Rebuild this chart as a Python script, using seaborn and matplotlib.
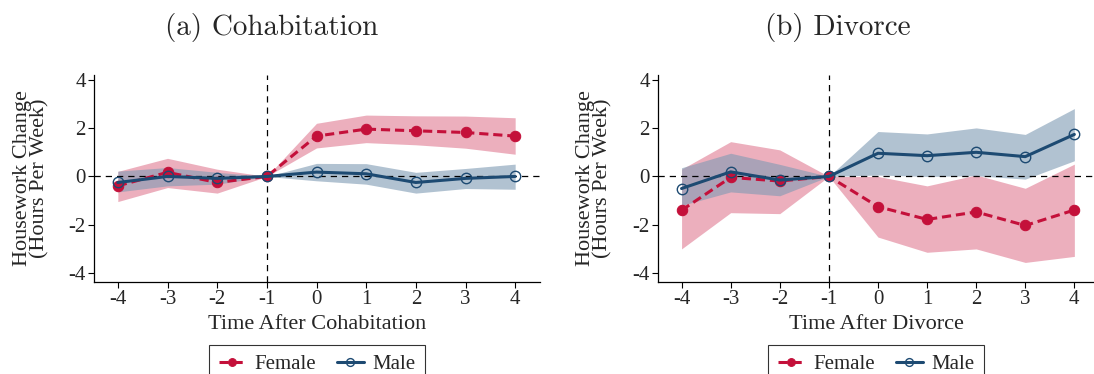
import numpy as np
import pandas as pd
import matplotlib
matplotlib.use("Agg")
import matplotlib.pyplot as plt
import seaborn as sns

# Event time relative to the transition
event_time = [-4, -3, -2, -1, 0, 1, 2, 3, 4]

# (a) Cohabitation
cohab_female = [-0.39, 0.17, -0.25, 0.0, 1.67, 1.96, 1.89, 1.82, 1.67]
cohab_female_lo = [-1.04, -0.46, -0.69, 0.0, 1.18, 1.40, 1.31, 1.17, 0.92]
cohab_female_hi = [0.21, 0.75, 0.30, 0.0, 2.20, 2.54, 2.51, 2.50, 2.43]
cohab_male = [-0.25, 0.0, -0.08, 0.0, 0.18, 0.11, -0.25, -0.08, 0.0]
cohab_male_lo = [-0.64, -0.39, -0.32, 0.0, -0.18, -0.32, -0.69, -0.50, -0.53]
cohab_male_hi = [0.22, 0.37, 0.17, 0.0, 0.54, 0.53, 0.17, 0.33, 0.51]

# (b) Divorce
div_female = [-1.40, -0.04, -0.19, 0.0, -1.25, -1.78, -1.47, -2.03, -1.39]
div_female_lo = [-3.00, -1.50, -1.54, 0.0, -2.51, -3.14, -3.00, -3.56, -3.31]
div_female_hi = [0.30, 1.44, 1.10, 0.0, 0.00, -0.39, 0.06, -0.49, 0.51]
div_male = [-0.50, 0.19, -0.15, 0.0, 0.96, 0.86, 1.00, 0.82, 1.74]
div_male_lo = [-1.20, -0.64, -0.80, 0.0, 0.06, 0.00, 0.03, -0.11, 0.65]
div_male_hi = [0.36, 0.96, 0.50, 0.0, 1.86, 1.76, 2.01, 1.74, 2.81]

titles = ["(a) Cohabitation", "(b) Divorce"]
xlabels = ["Time After Cohabitation", "Time After Divorce"]
ylabel = "Housework Change\n(Hours Per Week)"
y_ticks = [-4, -2, 0, 2, 4]

sns.set_theme(style="ticks")
plt.rcParams["font.family"] = ["Liberation Serif", "DejaVu Serif"]
plt.rcParams["axes.unicode_minus"] = False

red = "#c4103a"
red_band = "#e07a92"
navy = "#1d4a72"
navy_band = "#7e9ab3"

panels = [
    (cohab_female, cohab_female_lo, cohab_female_hi, cohab_male, cohab_male_lo, cohab_male_hi),
    (div_female, div_female_lo, div_female_hi, div_male, div_male_lo, div_male_hi),
]

fig = plt.figure(figsize=(10.94, 3.74), dpi=100)
W, H = 1094.0, 374.0
ax_boxes = [
    [94 / W, 1 - 282 / H, 446 / W, 207 / H],
    [658 / W, 1 - 282 / H, 436 / W, 207 / H],
]
title_x = [272 / W, 838 / W]

for i, (fem, fem_lo, fem_hi, mal, mal_lo, mal_hi) in enumerate(panels):
    ax = fig.add_axes(ax_boxes[i])
    df = pd.DataFrame({
        "t": event_time * 2,
        "value": fem + mal,
        "Sex": ["Female"] * len(event_time) + ["Male"] * len(event_time),
    })
    ax.fill_between(event_time, fem_lo, fem_hi, color=red_band, alpha=0.6, lw=0, zorder=1)
    ax.fill_between(event_time, mal_lo, mal_hi, color=navy_band, alpha=0.6, lw=0, zorder=1)
    ax.axhline(0, color="black", lw=0.9, ls=(0, (5, 4)), zorder=2)
    ax.axvline(-1, color="black", lw=0.9, ls=(0, (5, 4)), zorder=2)

    sns.lineplot(data=df[df.Sex == "Female"], x="t", y="value", ax=ax,
                 color=red, lw=2.2, ls=(0, (3, 1.6)), marker="o", markersize=7.5,
                 markeredgecolor=red, markerfacecolor=red, label="Female", zorder=3)
    sns.lineplot(data=df[df.Sex == "Male"], x="t", y="value", ax=ax,
                 color=navy, lw=2.2, marker="o", markersize=7.5,
                 markeredgecolor=navy, markerfacecolor="none", markeredgewidth=1.0,
                 label="Male", zorder=4)

    ax.set_xlim(-4.48, 4.5 if i == 0 else 4.4)
    ax.set_ylim(-4.37, 4.2)
    ax.set_xticks(event_time)
    ax.set_yticks(y_ticks)
    ax.tick_params(axis="both", labelsize=15, length=4, width=0.8, color="black",
                   direction="out", pad=2)
    for s in ("top", "right"):
        ax.spines[s].set_visible(False)
    for s in ("left", "bottom"):
        ax.spines[s].set_color("black")
        ax.spines[s].set_linewidth(0.9)
    ax.set_xlabel(xlabels[i], fontsize=16, labelpad=4)
    ax.set_ylabel(ylabel, fontsize=16, linespacing=0.85)
    ax.yaxis.set_label_coords(-0.10 if i == 0 else -0.105, 0.5)
    fig.text(title_x[i], 1 - 27 / H, titles[i], fontsize=21, family="cmr10",
             ha="center", va="center")
    leg = ax.legend(loc="upper center", bbox_to_anchor=(0.5, -0.305), ncol=2,
                    frameon=True, fancybox=False, fontsize=15, handlelength=1.3,
                    columnspacing=1.0, handletextpad=0.4, borderpad=0.45,
                    borderaxespad=0.0, edgecolor="black", markerscale=0.75)
    leg.get_frame().set_linewidth(0.8)

fig.savefig("out.png", dpi=100)
